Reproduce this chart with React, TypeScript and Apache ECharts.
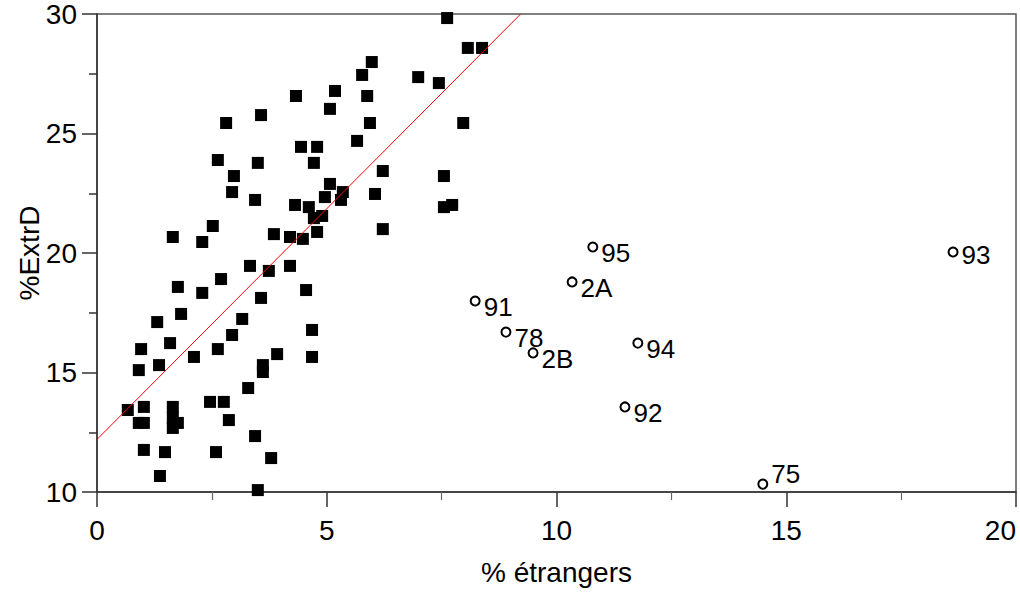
import { useEffect, useRef } from "react";
import * as echarts from "echarts";

// Squares: départements (x = % étrangers, y = %ExtrD)
const squareX = [
  4.33, 3.57, 2.81, 4.44, 2.63, 3.5, 2.98, 2.94, 3.44, 4.31, 2.52, 1.65, 2.29, 3.85, 4.2, 4.48,
  7.62, 8.07, 8.38, 5.98, 5.77, 6.99, 7.44, 5.18, 5.88, 5.07, 5.94, 7.97, 5.66, 4.79, 4.72, 6.22,
  7.55, 5.07, 5.35, 4.96, 5.31, 6.05, 4.61, 7.55, 7.73, 4.72, 4.9, 4.79, 6.22,
  3.33, 3.74, 4.2, 2.7, 1.76, 2.29, 3.57, 1.83, 1.31, 3.16, 2.94, 1.59, 0.96, 2.63, 2.11, 3.92,
  1.35, 0.91, 3.61, 3.61, 3.29, 0.67, 1.02, 1.65, 2.46, 2.76, 0.91, 1.02, 1.65, 1.76, 1.65, 2.87,
  3.44, 1.02, 1.48, 2.59, 3.79, 1.37, 3.5, 4.55, 4.68, 4.68,
];
const squareY = [
  26.57, 25.77, 25.44, 24.44, 23.89, 23.77, 23.22, 22.55, 22.22, 22.01, 21.13, 20.67, 20.46, 20.79, 20.67, 20.59,
  29.83, 28.58, 28.58, 27.99, 27.45, 27.36, 27.11, 26.78, 26.57, 26.03, 25.44, 25.44, 24.69, 24.44, 23.77, 23.43,
  23.22, 22.89, 22.55, 22.34, 22.22, 22.47, 21.92, 21.92, 22.01, 21.46, 21.55, 20.88, 21.0,
  19.46, 19.25, 19.46, 18.91, 18.58, 18.33, 18.12, 17.45, 17.11, 17.24, 16.57, 16.23, 15.98, 15.98, 15.65, 15.77,
  15.31, 15.1, 15.31, 15.02, 14.35, 13.43, 13.56, 13.56, 13.77, 13.77, 12.89, 12.89, 13.1, 12.89, 12.68, 13.01,
  12.34, 11.76, 11.67, 11.67, 11.42, 10.67, 10.08, 18.45, 16.78, 15.65,
];

// Labelled départements (open circles)
const deptLabels = ["95", "2A", "91", "78", "2B", "94", "92", "75", "93"];
const deptX = [10.79, 10.34, 8.23, 8.9, 9.49, 11.77, 11.49, 14.49, 18.63];
const deptY = [20.25, 18.79, 17.99, 16.69, 15.82, 16.23, 13.56, 10.33, 20.04];

// Fitted regression line end points
const fitX = [0, 9.22];
const fitY = [12.2, 30];

const xAxisTitle = "% étrangers";
const yAxisTitle = "%ExtrD";

export default function App() {
  const ref = useRef<HTMLDivElement>(null);
  useEffect(() => {
    const chart = echarts.init(ref.current!, null, { renderer: "svg" });
    const font = "'Liberation Sans', Arial, sans-serif";
    const labelOffsets: Record<string, number[]> = { "75": [0, -10], "93": [0, 3] };
    chart.setOption({
      animation: false,
      grid: {
        left: 97,
        top: 14,
        right: 4,
        bottom: 100,
        containLabel: false,
        outerBoundsMode: "none",
        show: true,
        borderColor: "#555",
        borderWidth: 1.5,
        backgroundColor: "transparent",
      },
      xAxis: {
        type: "value",
        min: 0,
        max: 20,
        interval: 5,
        name: xAxisTitle,
        nameLocation: "middle",
        nameGap: 66,
        nameMoveOverlap: false,
        nameTextStyle: { fontSize: 28, color: "#000", fontFamily: font },
        axisLine: { show: true, onZero: false, lineStyle: { color: "#333", width: 1.5 } },
        axisTick: { show: true, length: 15, lineStyle: { color: "#333", width: 1.5 } },
        minorTick: { show: true, splitNumber: 2, length: 8, lineStyle: { color: "#666", width: 1.2 } },
        axisLabel: { fontSize: 28, color: "#000", fontFamily: font, margin: 24, alignMaxLabel: "right" },
        splitLine: { show: false },
      },
      yAxis: {
        type: "value",
        min: 10,
        max: 30,
        interval: 5,
        name: yAxisTitle,
        nameLocation: "middle",
        nameGap: 54,
        nameMoveOverlap: false,
        nameRotate: 90,
        nameTextStyle: { fontSize: 28, color: "#000", fontFamily: font },
        axisLine: { show: true, onZero: false, lineStyle: { color: "#333", width: 1.5 } },
        axisTick: { show: true, length: 15, lineStyle: { color: "#333", width: 1.5 } },
        minorTick: { show: true, splitNumber: 2, length: 8, lineStyle: { color: "#333", width: 1.5 } },
        axisLabel: { fontSize: 28, color: "#000", fontFamily: font, margin: 20 },
        splitLine: { show: false },
      },
      series: [
        {
          type: "scatter",
          silent: true,
          symbol: "rect",
          symbolSize: 12,
          itemStyle: { color: "#000", opacity: 1 },
          data: squareX.map((x, i) => [x, squareY[i]]),
          z: 2,
        },
        {
          type: "line",
          silent: true,
          showSymbol: false,
          symbol: "none",
          lineStyle: { color: "#ff0000", width: 1 },
          data: fitX.map((x, i) => [x, fitY[i]]),
          z: 4,
        },
        {
          type: "scatter",
          silent: true,
          symbol: "circle",
          symbolSize: 9,
          itemStyle: { color: "#fff", borderColor: "#000", borderWidth: 2, opacity: 1 },
          label: {
            show: true,
            position: "right",
            distance: 3,
            formatter: (p: any) => p.name,
            fontSize: 26,
            color: "#000",
            opacity: 1,
            fontFamily: font,
            offset: [0, 6],
          },
          data: deptLabels.map((name, i) => ({
            name,
            value: [deptX[i], deptY[i]],
            label: labelOffsets[name] ? { offset: labelOffsets[name] } : undefined,
          })),
          z: 3,
        },
      ],
    });
    return () => chart.dispose();
  }, []);
  return (
    <div
      ref={ref}
      style={{ position: "fixed", left: 0, top: 0, width: 1020, height: 592, background: "#fff" }}
    />
  );
}
